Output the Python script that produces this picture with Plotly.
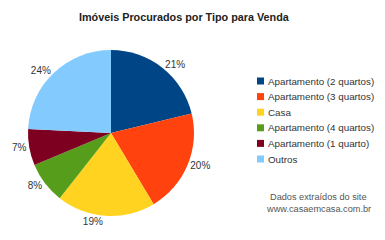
import plotly.graph_objects as go

labels = ["Apartamento (2 quartos)", "Apartamento (3 quartos)", "Casa",
          "Apartamento (4 quartos)", "Apartamento (1 quarto)", "Outros"]
values = [21, 20, 19, 8, 7, 24]
colors = ["#004586", "#FF420E", "#FFD320", "#579D1C", "#7E0021", "#83CAFF"]
title = "Imóveis Procurados por Tipo para Venda"
note = ["Dados extraídos do site", "www.casaemcasa.com.br"]

W, H = 385, 240
fig = go.Figure()
fig.add_trace(go.Pie(
    labels=labels, values=values, sort=False, direction="clockwise", rotation=0,
    marker=dict(colors=colors, line=dict(width=0)),
    textposition="outside", texttemplate="%{percent:.0%}",
    textfont=dict(family="Liberation Sans, Arial", size=10, color="#333333"),
    domain=dict(x=[28 / W, 194 / W], y=[1 - 217 / H, 1 - 49 / H]),
    showlegend=False, hoverinfo="label+percent",
))

shapes = []
annotations = [dict(text="<b>%s</b>" % title, x=184.5 / W, y=1 - 17 / H, xref="paper", yref="paper",
                    showarrow=False, xanchor="center", yanchor="middle",
                    font=dict(family="Liberation Sans, Arial", size=10.8, color="#222222"))]
y0, dy = 81, 15.6
for i, (lab, col) in enumerate(zip(labels, colors)):
    yc = y0 + i * dy
    shapes.append(dict(type="rect", xref="paper", yref="paper",
                       x0=257 / W, x1=264 / W, y0=1 - (yc + 3.5) / H, y1=1 - (yc - 3.5) / H,
                       fillcolor=col, line=dict(width=0)))
    annotations.append(dict(text=lab, x=265.5 / W, y=1 - yc / H, xref="paper", yref="paper",
                            showarrow=False, xanchor="left", yanchor="middle",
                            font=dict(family="Liberation Sans, Arial", size=9.8, color="#333333")))
for j, line in enumerate(note):
    annotations.append(dict(text=line, x=318 / W, y=1 - (197 + j * 12) / H, xref="paper", yref="paper",
                            showarrow=False, xanchor="center", yanchor="middle",
                            font=dict(family="Liberation Sans, Arial", size=9.2, color="#555555")))

fig.update_layout(width=W, height=H, margin=dict(l=0, r=0, t=0, b=0),
                  paper_bgcolor="white", plot_bgcolor="white",
                  shapes=shapes, annotations=annotations)
fig.write_html("out.html")
